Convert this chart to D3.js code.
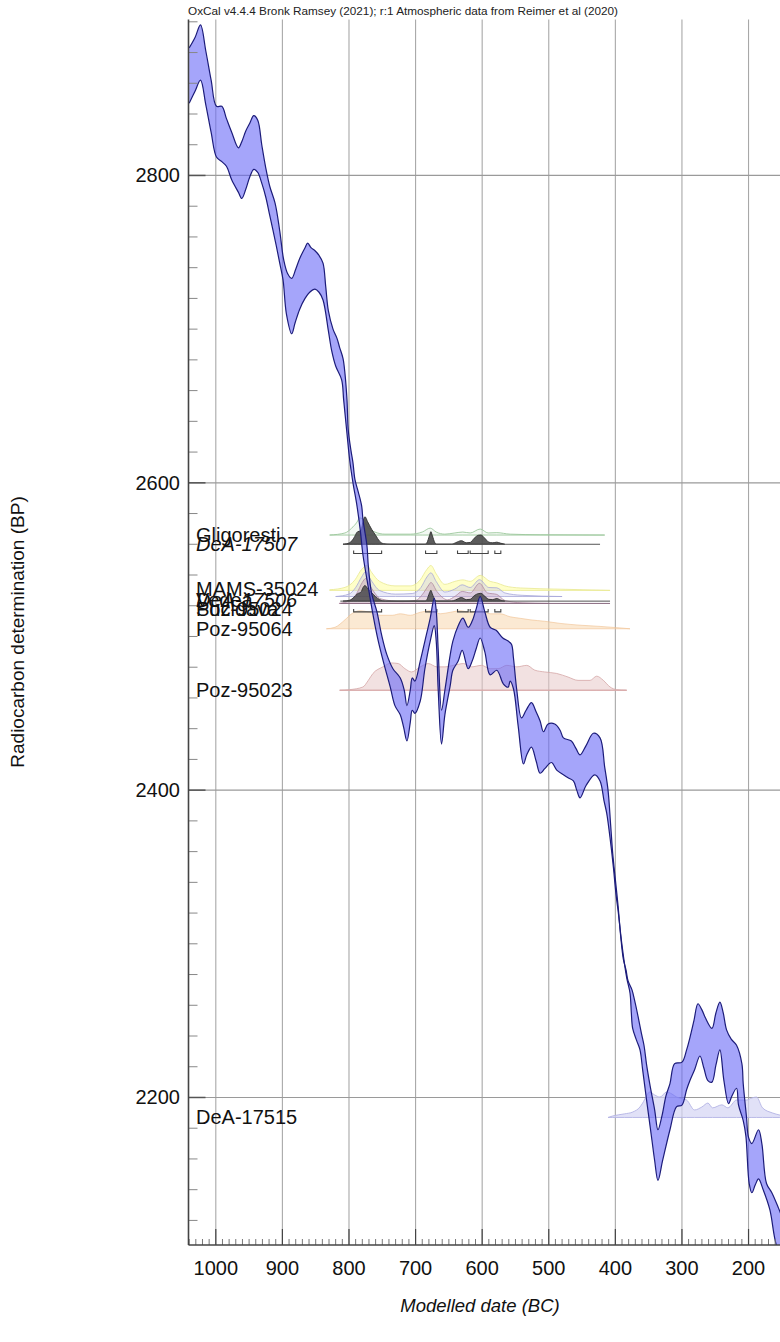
<!DOCTYPE html>
<html><head><meta charset="utf-8">
<script src="https://cdn.jsdelivr.net/npm/d3@7"></script>
<style>body{margin:0;background:#fff}svg{display:block}</style>
</head><body><svg id="c" width="780" height="1342"></svg>
<script>
// ---------- DATA ----------
const titleText = "OxCal v4.4.4 Bronk Ramsey (2021); r:1 Atmospheric data from Reimer et al (2020)";
const xLabel = "Modelled date (BC)";
const yLabel = "Radiocarbon determination (BP)";
const xTickValues = [1000, 900, 800, 700, 600, 500, 400, 300, 200];
const yTickValues = [2800, 2600, 2400, 2200];

// calibration curve band: [year BC, BP]
const curveUpper = [[1040,2883],[1031,2890],[1023,2898],[1015,2881],[1007,2862],[999,2845],[991,2845],[984,2837],[976,2828],[966,2818],[961,2822],[955,2829],[949,2834],[943,2839],[937,2836],[931,2820],[925,2805],[919,2793],[911,2782],[904,2764],[898,2745],[892,2736],[886,2733],[880,2739],[874,2746],[866,2753],[862,2756],[857,2753],[851,2751],[845,2748],[839,2743],[835,2728],[831,2712],[824,2700],[818,2694],[814,2688],[809,2681],[806,2671],[803,2654],[801,2634],[797,2621],[794,2613],[791,2602],[786,2594],[781,2585],[779,2576],[773,2559],[771,2546],[766,2528],[758,2516],[751,2501],[743,2488],[734,2479],[723,2473],[717,2465],[713,2455],[708,2465],[705,2473],[701,2471],[693,2484],[686,2497],[678,2512],[672,2525],[669,2517],[666,2491],[661,2452],[656,2465],[648,2488],[644,2497],[636,2507],[629,2512],[621,2506],[615,2510],[609,2518],[603,2526],[596,2516],[588,2506],[579,2504],[569,2499],[561,2497],[556,2495],[553,2486],[548,2465],[541,2447],[534,2452],[526,2457],[519,2451],[513,2445],[508,2438],[501,2443],[491,2443],[483,2439],[478,2434],[466,2432],[459,2427],[453,2423],[444,2429],[433,2437],[423,2434],[416,2415],[411,2400],[407,2377],[404,2359],[401,2346],[396,2325],[392,2305],[388,2290],[384,2283],[381,2276],[375,2270],[371,2263],[366,2253],[361,2242],[357,2234],[353,2221],[348,2208],[341,2192],[336,2179],[330,2188],[324,2201],[318,2209],[311,2222],[300,2223],[293,2231],[288,2239],[282,2250],[276,2261],[270,2257],[265,2252],[255,2245],[249,2255],[243,2262],[238,2255],[233,2244],[226,2238],[218,2234],[210,2222],[208,2209],[203,2187],[200,2174],[195,2170],[185,2179],[180,2170],[173,2144],[165,2138],[155,2128],[145,2117]];
const curveLower = [[1040,2847],[1031,2855],[1023,2862],[1015,2846],[1007,2828],[999,2812],[991,2809],[984,2806],[976,2797],[966,2789],[961,2785],[955,2791],[949,2799],[943,2804],[937,2802],[931,2795],[925,2786],[919,2774],[911,2758],[904,2743],[899,2732],[894,2710],[886,2697],[881,2704],[874,2713],[866,2720],[859,2724],[851,2726],[845,2724],[839,2719],[831,2699],[826,2686],[820,2676],[811,2667],[808,2654],[803,2632],[799,2615],[794,2600],[788,2585],[783,2569],[779,2553],[771,2532],[763,2512],[756,2497],[748,2483],[738,2467],[731,2455],[723,2449],[718,2441],[713,2432],[708,2444],[705,2452],[701,2450],[693,2458],[686,2479],[678,2497],[672,2507],[669,2497],[666,2465],[661,2430],[656,2449],[648,2468],[644,2478],[636,2484],[630,2491],[621,2479],[615,2484],[609,2492],[603,2499],[596,2490],[588,2475],[578,2478],[568,2469],[561,2467],[558,2471],[553,2466],[546,2442],[538,2417],[533,2423],[526,2428],[519,2419],[513,2411],[506,2414],[496,2418],[488,2413],[478,2410],[471,2408],[463,2406],[458,2400],[453,2395],[444,2403],[431,2410],[423,2406],[417,2393],[413,2385],[408,2369],[403,2350],[399,2332],[396,2322],[390,2299],[383,2278],[378,2268],[376,2255],[374,2245],[368,2237],[363,2231],[359,2218],[353,2198],[345,2172],[341,2159],[336,2146],[329,2159],[318,2179],[308,2194],[300,2195],[293,2205],[288,2211],[281,2218],[273,2227],[267,2219],[261,2211],[255,2210],[249,2221],[243,2231],[237,2211],[230,2196],[225,2201],[218,2206],[215,2195],[208,2185],[204,2175],[199,2144],[195,2138],[190,2143],[185,2147],[178,2140],[168,2127],[160,2107],[145,2084]];

// probability distributions: [year BC, relative density]
const gligorestiDist = [[829,0],[806,0.07],[796,0.23],[788,0.43],[784,0.57],[778,0.5],[772,0.27],[761,0.1],[746,0.03],[708,0.03],[690,0.1],[678,0.23],[669,0.1],[656,0.03],[641,0.07],[629,0.1],[618,0.07],[603,0.2],[591,0.07],[578,0.08],[558,0.03],[513,0.01],[416,0]];
const dea17507Dist = [[809,0],[799,0.05],[793,0.2],[787,0.42],[782,0.45],[779,0.75],[776,0.92],[772,0.75],[766,0.5],[760,0.3],[754,0.1],[748,0.02],[738,0],[686,0],[683,0.05],[679,0.3],[677,0.42],[675,0.3],[671,0.05],[668,0],[646,0],[640,0.05],[631,0.12],[624,0.05],[618,0.06],[612,0.2],[606,0.3],[602,0.31],[596,0.2],[590,0.07],[584,0.05],[578,0.07],[573,0.04],[566,0]];
const mams35024Dist = [[829,0.02],[806,0.1],[791,0.35],[781,0.7],[773,0.83],[766,0.6],[754,0.3],[731,0.15],[708,0.15],[693,0.35],[683,0.7],[677,0.83],[669,0.55],[656,0.2],[641,0.3],[629,0.35],[618,0.3],[603,0.5],[588,0.3],[578,0.25],[566,0.15],[543,0.08],[483,0.04],[408,0]];
const vedeaDist = [[820,0],[800,0.08],[790,0.3],[781,0.65],[775,0.83],[767,0.55],[754,0.2],[730,0.08],[705,0.1],[692,0.3],[683,0.65],[677,0.79],[669,0.5],[656,0.15],[641,0.25],[630,0.39],[618,0.3],[604,0.56],[590,0.3],[578,0.29],[566,0.12],[540,0.04],[480,0]];
const sucidavaDist = [[815,0],[798,0.1],[788,0.35],[780,0.7],[775,0.83],[766,0.5],[752,0.15],[720,0.06],[700,0.1],[688,0.35],[680,0.62],[677,0.7],[668,0.4],[652,0.12],[640,0.25],[630,0.4],[618,0.35],[604,0.67],[592,0.35],[578,0.3],[566,0.1],[540,0.02],[500,0]];
const dea17506Dist = [[809,0],[799,0.03],[793,0.12],[787,0.25],[782,0.3],[779,0.45],[776,0.52],[772,0.42],[766,0.28],[760,0.15],[754,0.05],[745,0],[686,0],[683,0.05],[679,0.28],[677,0.36],[675,0.25],[671,0.04],[668,0],[646,0],[640,0.04],[631,0.12],[624,0.05],[618,0.06],[612,0.18],[606,0.25],[602,0.26],[596,0.16],[590,0.06],[584,0.05],[578,0.09],[573,0.04],[566,0]];
const poz95064Dist = [[834,0],[821,0.05],[806,0.3],[796,0.5],[784,0.6],[769,0.55],[754,0.45],[735,0.45],[723,0.5],[708,0.45],[693,0.55],[678,0.6],[663,0.5],[648,0.55],[633,0.6],[618,0.55],[603,0.6],[588,0.5],[573,0.5],[558,0.4],[543,0.35],[528,0.3],[506,0.25],[483,0.18],[453,0.12],[423,0.08],[393,0.03],[378,0]];
const poz95023Dist = [[814,0],[799,0.02],[779,0.11],[771,0.33],[764,0.56],[749,0.78],[736,0.91],[726,0.89],[716,0.72],[706,0.61],[693,0.78],[681,0.89],[668,0.78],[656,0.78],[643,0.83],[628,0.89],[616,0.78],[601,0.83],[588,0.72],[576,0.72],[563,0.83],[548,0.78],[533,0.83],[521,0.67],[506,0.61],[488,0.56],[471,0.44],[456,0.33],[438,0.33],[428,0.47],[418,0.33],[408,0.11],[398,0.02],[383,0]];
const dea17515Dist = [[411,0],[404,0.05],[386,0.12],[374,0.18],[363,0.35],[359,0.48],[348,0.85],[341,0.75],[333,0.68],[323,0.85],[315,0.78],[308,0.68],[299,0.62],[293,0.58],[281,0.25],[270,0.35],[261,0.48],[254,0.32],[240,0.42],[231,0.32],[218,0.58],[203,0.58],[195,0.65],[188,0.68],[179,0.32],[164,0.15],[153,0.08],[138,0.03]];

// radiocarbon levels (BP) at which each distribution is drawn
const distLevels = { gligoresti: 2566, dea17507: 2560, mams35024: 2530, vedea: 2526, sucidava: 2521.5, dea17506: 2523, poz95064: 2505, poz95023: 2465, dea17515: 2187 };
// highest probability ranges [from, to] years BC
const dea17507Ranges = [[793,751],[685,668],[637,621],[618,591],[581,572]];
const rangeLevels = [2554, 2516];

// labels: [text, BP level, italic]
const labelNames = ["Gligoresti","DeA-17507","MAMS-35024","DeA-17506","Vedea","Poz-95024","Sucidava","Poz-95064","Poz-95023","DeA-17515"];
const labelLevels = [2566, 2560, 2531, 2524, 2524, 2518, 2518, 2505, 2465, 2187];
const labelItalic = [false, true, false, true, false, false, false, false, false, false];

// ---------- CHART ----------
const W = 780, H = 1342;
const svg = d3.select("#c");
const font = "'Liberation Sans', Arial, Helvetica, sans-serif";
const x = d3.scaleLinear().domain([1041, 152]).range([188.5, 780.5]);
const y = d3.scaleLinear().domain([2104, 2901.5]).range([1245, 19.5]);
const hUnit = 30; // px per unit relative density
const plotTop = y.range()[1], plotBottom = y.range()[0], plotLeft = x.range()[0];

svg.append("rect").attr("width", W).attr("height", H).attr("fill", "#fff");

const defs = svg.append("defs");
defs.append("clipPath").attr("id", "clip").append("rect")
  .attr("x", plotLeft).attr("y", plotTop).attr("width", W - plotLeft).attr("height", plotBottom - plotTop);

// grid
const grid = svg.append("g");
grid.selectAll("line.vg").data(xTickValues).join("line")
  .attr("x1", d => x(d)).attr("x2", d => x(d)).attr("y1", plotTop).attr("y2", plotBottom)
  .attr("stroke", "#a8a8a8").attr("stroke-width", 1.1);
grid.selectAll("line.hg").data(yTickValues).join("line")
  .attr("x1", plotLeft).attr("x2", W).attr("y1", d => y(d)).attr("y2", d => y(d))
  .attr("stroke", "#9a9a9a").attr("stroke-width", 1.2);

const plot = svg.append("g").attr("clip-path", "url(#clip)");

function drawDist(data, bp, fill, fillOp, stroke, strokeOp) {
  const base = y(bp);
  const area = d3.area().x(d => x(d[0])).y0(base).y1(d => base - d[1] * hUnit).curve(d3.curveMonotoneX);
  plot.append("path").attr("d", area(data)).attr("fill", fill).attr("fill-opacity", fillOp)
    .attr("stroke", stroke).attr("stroke-opacity", strokeOp).attr("stroke-width", 1);
  return base;
}

// distributions
drawDist(poz95023Dist, distLevels.poz95023, "#e8c8c8", 0.55, "#d6a8a8", 0.8);
plot.append("line").attr("x1", x(poz95023Dist[0][0])).attr("x2", x(poz95023Dist[poz95023Dist.length-1][0]))
  .attr("y1", y(distLevels.poz95023)).attr("y2", y(distLevels.poz95023)).attr("stroke", "#d8a8a8").attr("stroke-width", 1.2);
drawDist(poz95064Dist, distLevels.poz95064, "#f8d4a8", 0.5, "#f0c090", 0.6);
drawDist(mams35024Dist, distLevels.mams35024, "#ffff9c", 0.55, "#e8e890", 0.8);
drawDist(vedeaDist, distLevels.vedea, "#c8c8ee", 0.4, "#a8a8d8", 0.8);
drawDist(sucidavaDist, distLevels.sucidava, "#c8a0b8", 0.4, "#b08aa0", 0.8);
drawDist(dea17506Dist, distLevels.dea17506, "#404040", 0.8, "#303030", 0.9);
drawDist(gligorestiDist, distLevels.gligoresti, "#e0f0e0", 0.4, "#9cc89c", 0.9);
drawDist(dea17507Dist, distLevels.dea17507, "#4a4a4a", 0.9, "#303030", 0.9);
drawDist(dea17515Dist, distLevels.dea17515, "#d4d4f4", 0.7, "#b4b4e4", 0.9);

// baselines of posterior rows
[[distLevels.dea17507, "#555", 809, 423], [distLevels.dea17506, "#555", 813, 408], [distLevels.sucidava, "#8a6a80", 813, 408]].forEach(([bp, c, a, b]) => {
  plot.append("line").attr("x1", x(a)).attr("x2", x(b)).attr("y1", y(bp)).attr("y2", y(bp))
    .attr("stroke", c).attr("stroke-width", 1);
});

// range brackets
rangeLevels.forEach(bp => {
  const yy = y(bp);
  dea17507Ranges.forEach(r => {
    const x1 = x(r[0]), x2 = x(r[1]);
    plot.append("path").attr("d", `M${x1},${yy-3}V${yy}H${x2}V${yy-3}`)
      .attr("fill", "none").attr("stroke", "#444").attr("stroke-width", 1.1);
  });
});

// calibration curve band
const ptsU = curveUpper.map(d => [x(d[0]), y(d[1])]);
const ptsL = curveLower.map(d => [x(d[0]), y(d[1])]);
const lineGen = d3.line().curve(d3.curveCatmullRom.alpha(0.5));
plot.append("path").attr("d", lineGen(ptsU) + "L" + lineGen(ptsL.slice().reverse()).slice(1) + "Z")
  .attr("fill", "rgb(105,105,247)").attr("fill-opacity", 0.6).attr("stroke", "none");
plot.append("path").attr("d", lineGen(ptsU)).attr("fill", "none").attr("stroke", "#1c1c7a").attr("stroke-width", 1.2);
plot.append("path").attr("d", lineGen(ptsL)).attr("fill", "none").attr("stroke", "#1c1c7a").attr("stroke-width", 1.2);

// axes ticks
const ax = svg.append("g");
const minorX = d3.range(1040, 150, -10).filter(v => v % 100 !== 0);
ax.selectAll("line.mx").data(minorX).join("line")
  .attr("x1", d => x(d)).attr("x2", d => x(d)).attr("y1", plotBottom).attr("y2", plotBottom - 6)
  .attr("stroke", "#777").attr("stroke-width", 1);
ax.selectAll("line.Mx").data(xTickValues).join("line")
  .attr("x1", d => x(d)).attr("x2", d => x(d)).attr("y1", plotBottom).attr("y2", plotBottom - 16)
  .attr("stroke", "#444").attr("stroke-width", 1.2);
const minorY = d3.range(2120, 2901, 20).filter(v => v % 200 !== 0);
ax.selectAll("line.my").data(minorY).join("line")
  .attr("x1", plotLeft).attr("x2", plotLeft + 9).attr("y1", d => y(d)).attr("y2", d => y(d))
  .attr("stroke", "#888").attr("stroke-width", 1);
ax.selectAll("line.My").data(yTickValues).join("line")
  .attr("x1", plotLeft).attr("x2", plotLeft + 17).attr("y1", d => y(d)).attr("y2", d => y(d))
  .attr("stroke", "#555").attr("stroke-width", 1.5);

// spines
ax.append("line").attr("x1", plotLeft).attr("x2", plotLeft).attr("y1", plotTop).attr("y2", plotBottom)
  .attr("stroke", "#444").attr("stroke-width", 1.6);
ax.append("line").attr("x1", plotLeft).attr("x2", W).attr("y1", plotBottom).attr("y2", plotBottom)
  .attr("stroke", "#444").attr("stroke-width", 1.6);

// tick labels
ax.selectAll("text.xl").data(xTickValues).join("text")
  .attr("x", d => x(d)).attr("y", 1275).attr("text-anchor", "middle")
  .attr("font-family", font).attr("font-size", 20).attr("fill", "#111").text(d => d);
ax.selectAll("text.yl").data(yTickValues).join("text")
  .attr("x", 180).attr("y", d => y(d) + 7).attr("text-anchor", "end")
  .attr("font-family", font).attr("font-size", 20).attr("fill", "#111").text(d => d);

// axis titles
svg.append("text").attr("x", 480).attr("y", 1312).attr("text-anchor", "middle")
  .attr("font-family", font).attr("font-size", 18.5).attr("font-style", "italic").attr("fill", "#111").text(xLabel);
svg.append("text").attr("transform", "translate(24,632) rotate(-90)").attr("text-anchor", "middle")
  .attr("font-family", font).attr("font-size", 19).attr("fill", "#111").text(yLabel);

// top title
svg.append("text").attr("x", 188).attr("y", 15).attr("font-family", font).attr("font-size", 11)
  .attr("fill", "#222").attr("textLength", 430).attr("lengthAdjust", "spacingAndGlyphs").text(titleText);

// sample labels
svg.append("g").selectAll("text").data(labelNames).join("text")
  .attr("x", 196).attr("y", (d, i) => y(labelLevels[i]) + 7)
  .attr("font-family", font).attr("font-size", 20).attr("fill", "#111")
  .attr("font-style", (d, i) => labelItalic[i] ? "italic" : "normal").text(d => d);
</script>
</body></html>
